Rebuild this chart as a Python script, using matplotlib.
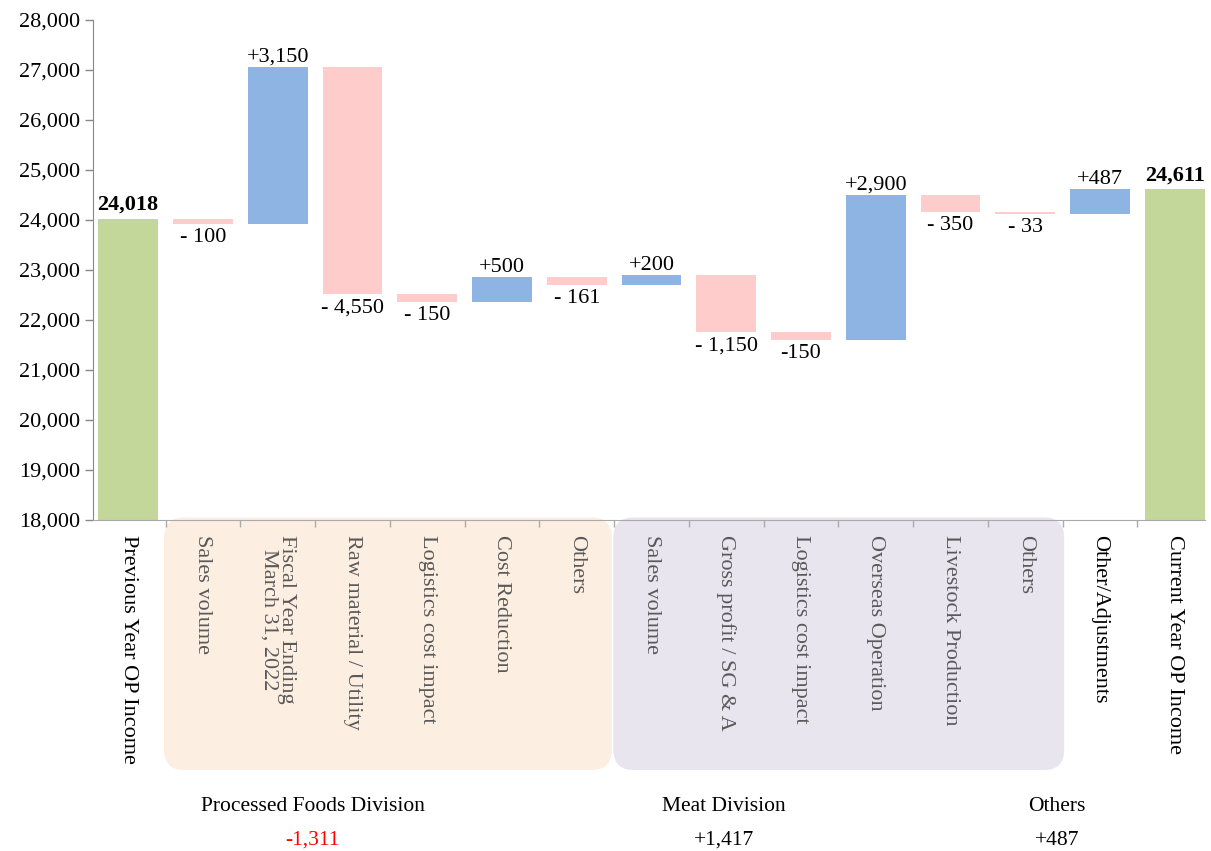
import matplotlib.pyplot as plt
from matplotlib.patches import FancyBboxPatch
from matplotlib.ticker import FuncFormatter
import matplotlib.transforms as mtransforms

plt.rcParams['font.family'] = ['Liberation Serif', 'DejaVu Serif']

categories = ["Previous Year OP Income", "Sales volume",
              "Fiscal Year Ending\nMarch 31, 2022", "Raw material / Utility",
              "Logistics cost impact", "Cost Reduction", "Others",
              "Sales volume", "Gross profit / SG & A", "Logistics cost impact",
              "Overseas Operation", "Livestock Production", "Others",
              "Other/Adjustments", "Current Year OP Income"]
start_total = 24018
changes = [-100, 3150, -4550, -150, 500, -161,
           200, -1150, -150, 2900, -350, -33, 487]
end_total = 24611
value_labels = ["24,018", "- 100", "+3,150", "- 4,550", "- 150", "+500", "- 161",
                "+200", "- 1,150", "-150", "+2,900", "- 350", "- 33", "+487", "24,611"]
groups = ["Processed Foods Division", "Meat Division", "Others"]
group_totals = ["-1,311", "+1,417", "+487"]

green = "#c4d79b"
blue = "#8eb4e3"
pink = "#ffcccc"

fig = plt.figure(figsize=(12.11, 8.51), dpi=100)
ax = fig.add_axes([0.0768, 0.389, 0.918, 0.5875])

# bottoms / heights of the floating bars
bottoms, heights, colors = [], [], []
bottoms.append(0)
heights.append(start_total)
colors.append(green)
level = start_total
for c in changes:
    if c >= 0:
        bottoms.append(level)
        colors.append(blue)
    else:
        bottoms.append(level + c)
        colors.append(pink)
    heights.append(abs(c))
    level += c
bottoms.append(0)
heights.append(end_total)
colors.append(green)

x = list(range(len(categories)))
ax.bar(x, heights, bottom=bottoms, width=0.8, color=colors, zorder=2)

# value labels
for i, (b, h, lab) in enumerate(zip(bottoms, heights, value_labels)):
    if i == 0 or i == len(x) - 1:
        ax.annotate(lab, (i, b + h), xytext=(0, 3), textcoords="offset points",
                    ha="center", va="bottom", fontsize=16, fontweight="bold")
    elif changes[i - 1] >= 0:
        ax.annotate(lab, (i, b + h), xytext=(0, 0), textcoords="offset points",
                    ha="center", va="bottom", fontsize=16)
    else:
        ax.annotate(lab, (i, b), xytext=(0, -3), textcoords="offset points",
                    ha="center", va="top", fontsize=16)

ax.set_ylim(18000, 28000)
ax.set_xlim(-0.47, 14.4)
ax.set_yticks(range(18000, 28001, 1000))
ax.yaxis.set_major_formatter(FuncFormatter(lambda v, p: f"{int(v):,}"))
ax.tick_params(axis="y", labelsize=16, color="#888888", length=6, width=1)

ax.set_xticks(x)
ax.set_xticklabels(categories, rotation=-90, va="top", ha="center", fontsize=16,
                   linespacing=0.95)
ax.tick_params(axis="x", which="major", length=0, pad=11)
ax.set_xticks([i + 0.5 for i in range(14)], minor=True)
ax.tick_params(axis="x", which="minor", length=5, color="#aaaaaa", width=1)
for i, t in enumerate(ax.get_xticklabels()):
    if 1 <= i <= 12:
        t.set_color("#595959")

for s in ["top", "right"]:
    ax.spines[s].set_visible(False)
ax.spines["left"].set_color("#888888")
ax.spines["bottom"].set_color("#aaaaaa")

# shaded group boxes behind the labels
trans = mtransforms.blended_transform_factory(ax.transData, ax.transAxes)
for x0, x1, fc in [(0.48, 6.47, "#fdeee2"), (6.49, 12.52, "#e8e5ef")]:
    box = FancyBboxPatch((x0, -0.5), x1 - x0, 0.505,
                         boxstyle="round,pad=0,rounding_size=0.27",
                         mutation_aspect=0.148, transform=trans,
                         facecolor=fc, edgecolor="none", clip_on=False, zorder=0)
    ax.add_patch(box)

# group names and totals
group_x = [2.47, 7.97, 12.42]
for gx, name, tot in zip(group_x, groups, group_totals):
    ax.text(gx, -0.574, name, transform=trans, ha="center", va="center", fontsize=15.5)
    ax.text(gx, -0.641, tot, transform=trans, ha="center", va="center", fontsize=15.5,
            color="red" if tot.startswith("-") else "black")

fig.savefig("out.png", dpi=100)
